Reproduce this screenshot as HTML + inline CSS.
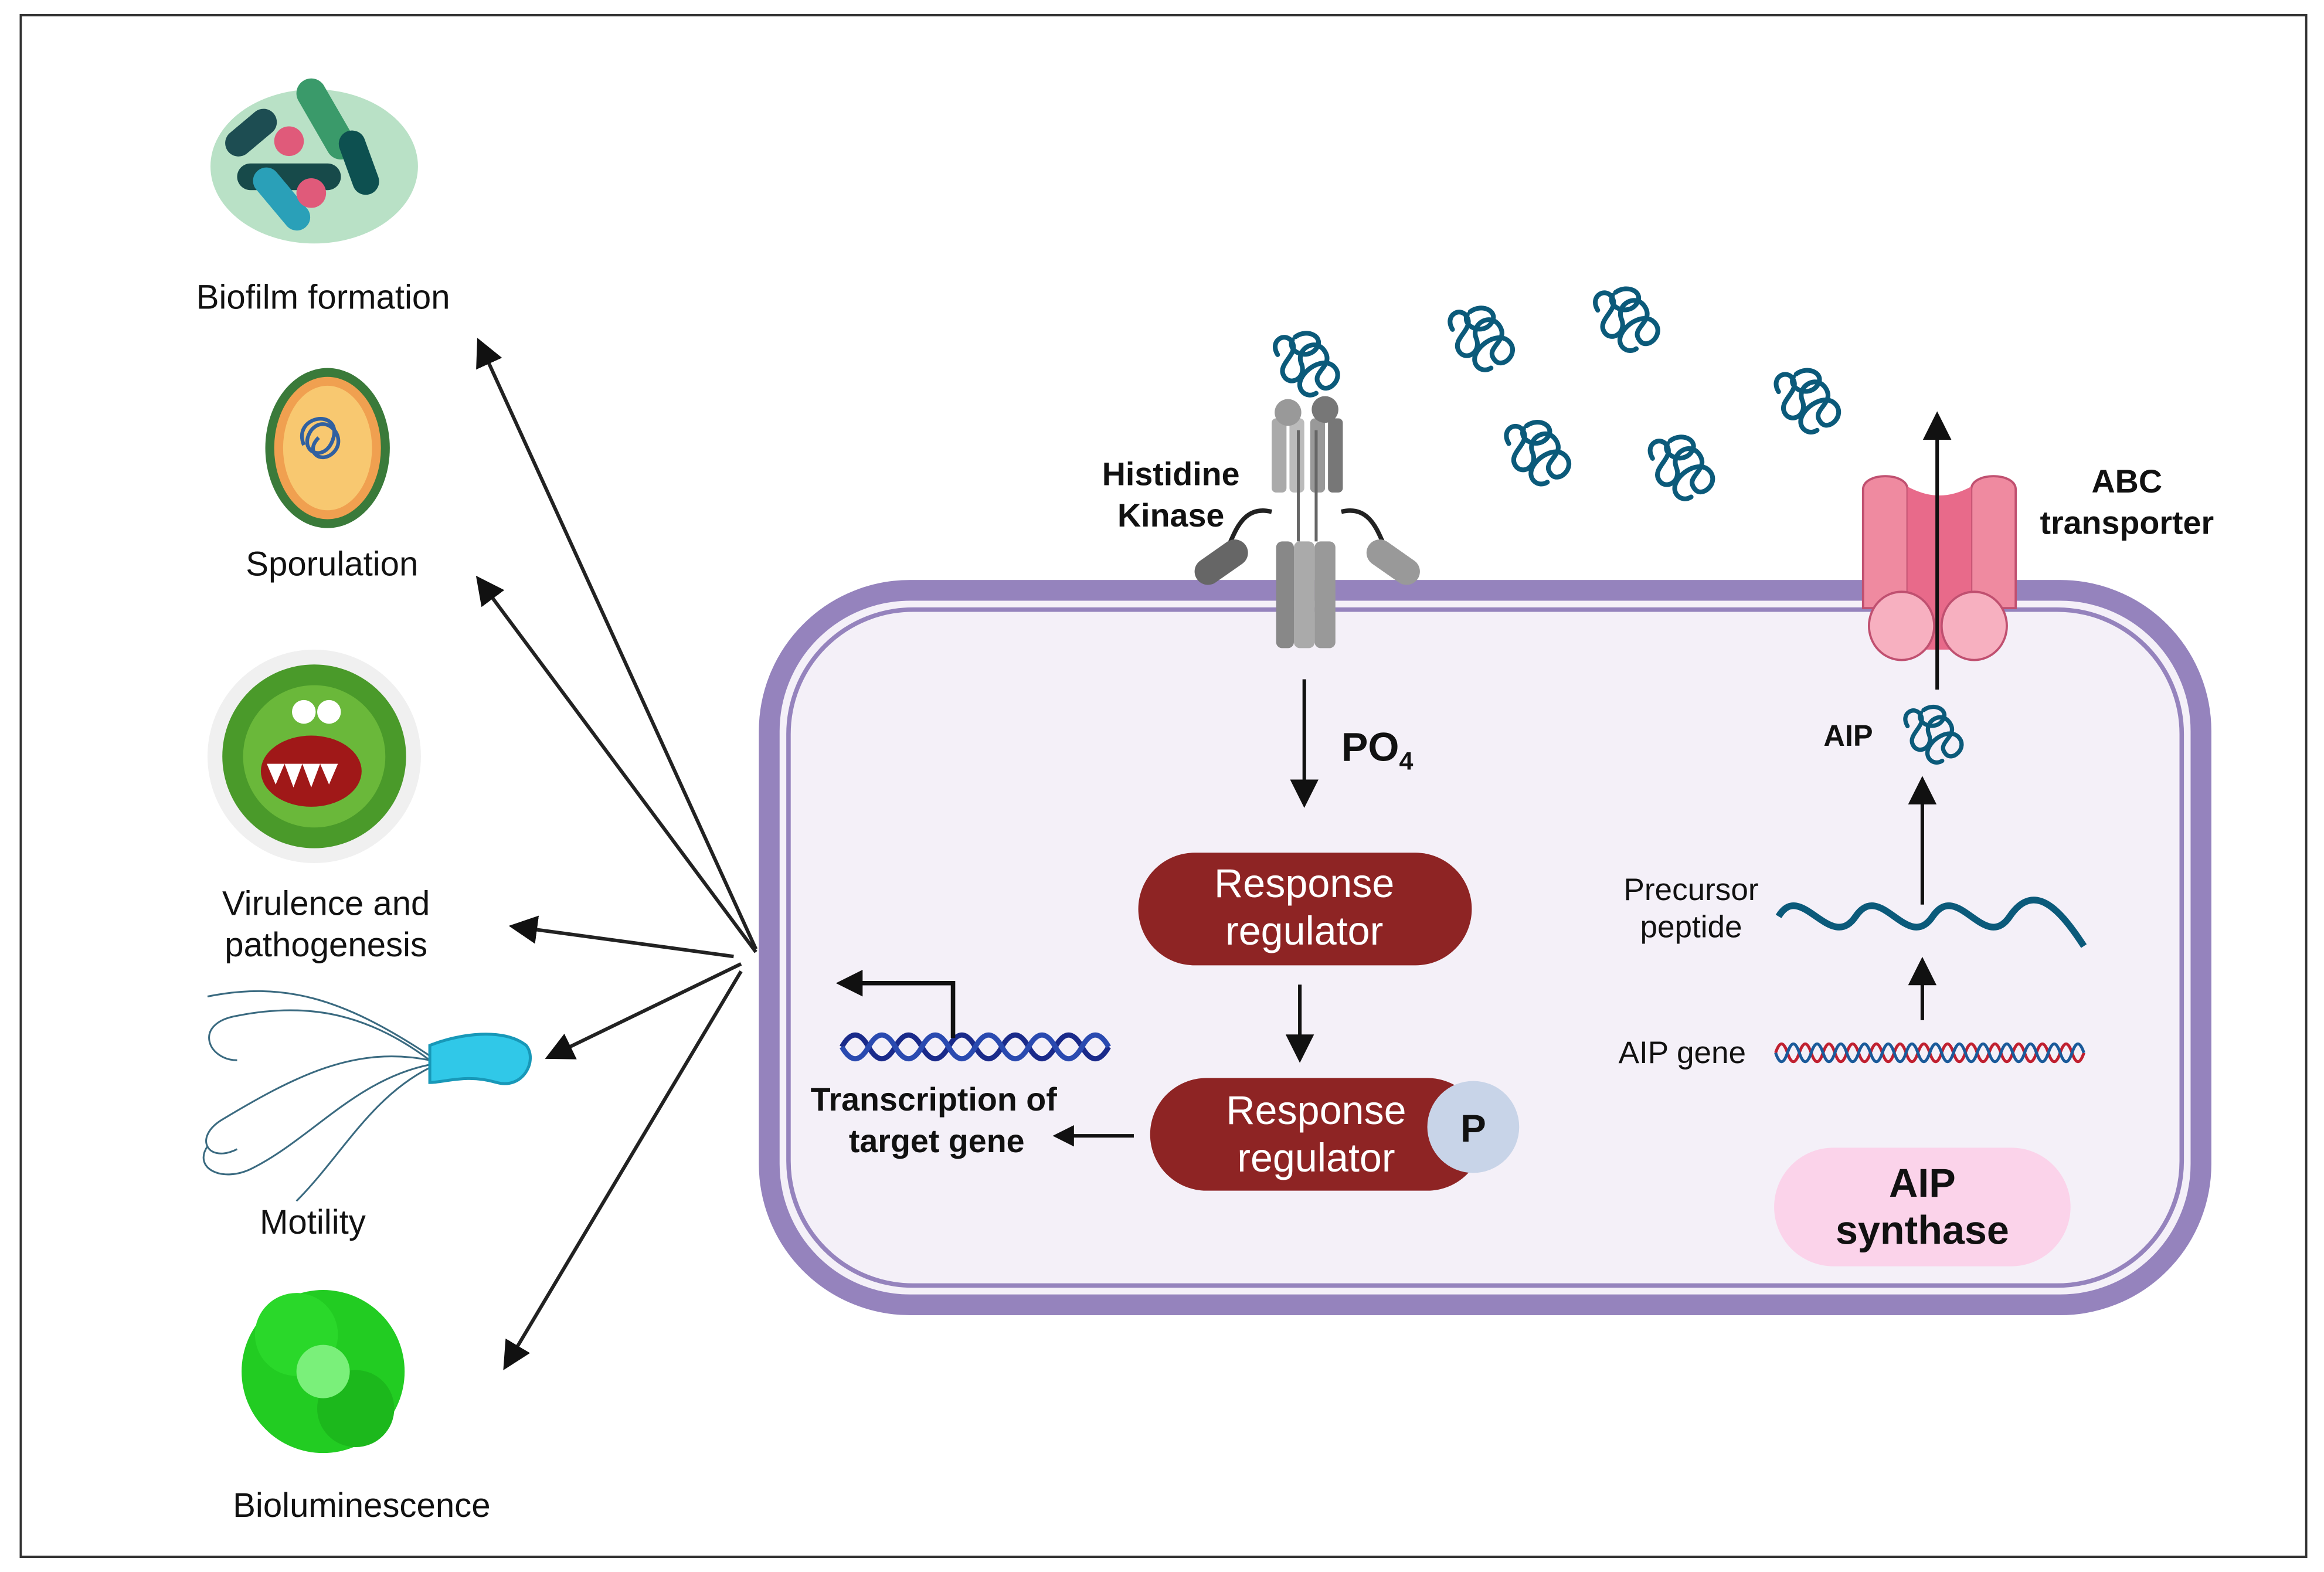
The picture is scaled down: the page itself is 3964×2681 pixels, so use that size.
<!DOCTYPE html>
<html><head><meta charset="utf-8"><style>
html,body{margin:0;padding:0;background:#fff}
svg{display:block}
text{font-family:"Liberation Sans",sans-serif}
</style></head><body>
<svg width="3964" height="2681" viewBox="0 0 1568 1060" xmlns="http://www.w3.org/2000/svg">
<defs>
<marker id="ah" markerWidth="8" markerHeight="8" refX="6" refY="4" orient="auto" markerUnits="strokeWidth">
<path d="M0,0 L8,4 L0,8 z" fill="#111"/></marker>
<marker id="ah2" markerWidth="6" markerHeight="6" refX="4" refY="3" orient="auto" markerUnits="strokeWidth">
<path d="M0,0 L6,3 L0,6 z" fill="#111"/></marker>
<g id="sq" fill="none" stroke="#0b5a7a" stroke-width="3.2" stroke-linecap="round">
<path d="M-20,-6 c-6,-10 6,-16 10,-8 c4,8 -10,14 -6,22 c4,8 16,2 12,-8 c-4,-10 10,-18 16,-8 c6,10 -10,14 -4,22 c5,8 18,-4 10,-12 c-6,-6 -18,0 -22,8 c-4,8 4,14 10,10"/>
<path d="M-8,-18 c8,-6 20,0 14,8 c-6,8 -20,2 -16,-6"/>
</g>
<linearGradient id="fade" x1="1" y1="0" x2="0" y2="0"><stop offset="0" stop-color="#ccc"/><stop offset="1" stop-color="#111"/></linearGradient>
</defs>
<rect x="0" y="0" width="1568" height="1060" fill="#fff"/>
<rect x="14" y="10" width="1542" height="1040" fill="none" stroke="#333" stroke-width="1.5"/>

<!-- cell -->
<rect x="519" y="398" width="966" height="482" rx="95" fill="#f4f0f8" stroke="#9583bd" stroke-width="14"/>
<rect x="532" y="411" width="940" height="456" rx="84" fill="none" stroke="#9583bd" stroke-width="3"/>

<!-- left icons -->
<g>
<ellipse cx="212" cy="112" rx="70" ry="52" fill="#a8d9b8" opacity="0.8"/>
<rect x="150" y="80" width="40" height="18" rx="9" fill="#1d4d52" transform="rotate(-40 170 90)"/>
<rect x="190" y="70" width="60" height="20" rx="10" fill="#3a9a6a" transform="rotate(60 220 80)"/>
<rect x="160" y="110" width="70" height="18" rx="9" fill="#174a4a"/>
<rect x="165" y="125" width="50" height="18" rx="9" fill="#2aa0b8" transform="rotate(50 190 134)"/>
<circle cx="195" cy="95" r="10" fill="#e05a7a"/><circle cx="210" cy="130" r="10" fill="#e05a7a"/>
<rect x="220" y="100" width="45" height="18" rx="9" fill="#0d5050" transform="rotate(70 242 109)"/>
</g>
<text x="218" y="208" font-size="23" text-anchor="middle" fill="#111">Biofilm formation</text>
<ellipse cx="221" cy="302" rx="42" ry="54" fill="#3a7a3a"/>
<ellipse cx="221" cy="302" rx="36" ry="48" fill="#f0a050"/>
<ellipse cx="221" cy="302" rx="30" ry="42" fill="#f8c870"/>
<path d="M205,300 c-8,-20 25,-25 20,-5 c-5,18 -25,10 -15,-5 c10,-12 25,5 15,15 c-8,8 -20,0 -10,-10" fill="none" stroke="#3060a0" stroke-width="2.5"/>
<text x="224" y="388" font-size="23" text-anchor="middle" fill="#111">Sporulation</text>
<circle cx="212" cy="510" r="72" fill="#f0f0f0"/>
<circle cx="212" cy="510" r="62" fill="#4a9a2a"/>
<circle cx="212" cy="510" r="48" fill="#6ab83a"/>
<ellipse cx="210" cy="520" rx="34" ry="24" fill="#a01818"/>
<path d="M180,515 l6,14 6,-14 6,16 6,-16 6,16 6,-16 6,14 6,-14" fill="#fff"/>
<circle cx="205" cy="480" r="8" fill="#fff"/><circle cx="222" cy="480" r="8" fill="#fff"/>
<text x="220" y="617" font-size="23" text-anchor="middle" fill="#111">Virulence and</text>
<text x="220" y="645" font-size="23" text-anchor="middle" fill="#111">pathogenesis</text>
<g fill="none" stroke="#3a6a80" stroke-width="1.2">
<path d="M290,715 c-40,-30 -80,-40 -130,-30 c-30,5 -20,30 0,30"/>
<path d="M290,715 c-50,-10 -90,10 -140,40 c-20,12 -10,30 10,20"/>
<path d="M290,718 c-50,10 -80,50 -120,70 c-20,10 -40,0 -30,-15"/>
<path d="M290,712 c-60,-40 -100,-50 -150,-40"/>
<path d="M290,720 c-40,20 -60,60 -90,90"/>
</g>
<path d="M290,705 c20,-8 50,-12 65,0 c8,10 -2,30 -20,25 c-20,-6 -35,0 -45,0 z" fill="#30c8e8" stroke="#1898b8" stroke-width="2"/>
<text x="211" y="832" font-size="23" text-anchor="middle" fill="#111">Motility</text>
<circle cx="218" cy="925" r="55" fill="#22cc22"/>
<circle cx="200" cy="900" r="28" fill="#2ad82a"/><circle cx="240" cy="950" r="26" fill="#1cb81c"/>
<circle cx="218" cy="925" r="18" fill="#7af07a"/>
<text x="244" y="1023" font-size="23" text-anchor="middle" fill="#111">Bioluminescence</text>

<!-- arrows from cell -->
<g stroke="url(#fade)" stroke-width="2.4" fill="none">
<line x1="510" y1="640" x2="324" y2="232" stroke="#222" marker-end="url(#ah)"/>
<line x1="510" y1="642" x2="324" y2="392" stroke="#222" marker-end="url(#ah)"/>
<line x1="495" y1="645" x2="348" y2="625" stroke="#222" marker-end="url(#ah)"/>
<line x1="500" y1="650" x2="372" y2="712" stroke="#222" marker-end="url(#ah)"/>
<line x1="500" y1="655" x2="342" y2="920" stroke="#222" marker-end="url(#ah)"/>
</g>

<!-- histidine kinase -->
<g>
<rect x="858" y="282" width="10" height="50" rx="3" fill="#aaa"/>
<rect x="870" y="282" width="10" height="50" rx="3" fill="#bbb"/>
<rect x="884" y="282" width="10" height="50" rx="3" fill="#999"/>
<rect x="896" y="282" width="10" height="50" rx="3" fill="#777"/>
<circle cx="869" cy="278" r="9" fill="#999"/><circle cx="894" cy="276" r="9" fill="#777"/>
<path d="M858,345 c-20,-5 -25,15 -30,25" stroke="#222" stroke-width="3" fill="none"/>
<path d="M905,345 c20,-5 25,15 30,25" stroke="#222" stroke-width="3" fill="none"/>
<rect x="804" y="370" width="40" height="18" rx="9" fill="#666" transform="rotate(-35 824 379)"/>
<rect x="920" y="370" width="40" height="18" rx="9" fill="#999" transform="rotate(35 940 379)"/>
<rect x="861" y="365" width="12" height="72" rx="4" fill="#888"/>
<rect x="873" y="365" width="14" height="72" rx="4" fill="#aaa"/>
<rect x="887" y="365" width="14" height="72" rx="4" fill="#999"/>
<line x1="876" y1="290" x2="876" y2="365" stroke="#666" stroke-width="2"/>
<line x1="888" y1="290" x2="888" y2="365" stroke="#666" stroke-width="2"/>
</g>
<use href="#sq" transform="translate(882,245)"/>
<use href="#sq" transform="translate(1000,228)"/>
<use href="#sq" transform="translate(1098,215)"/>
<use href="#sq" transform="translate(1038,305)"/>
<use href="#sq" transform="translate(1135,315)"/>
<use href="#sq" transform="translate(1220,270)"/>
<use href="#sq" transform="translate(1305,495) scale(0.9)"/>
<text x="790" y="327" font-size="22" font-weight="bold" text-anchor="middle" fill="#111">Histidine</text>
<text x="790" y="355" font-size="22" font-weight="bold" text-anchor="middle" fill="#111">Kinase</text>

<!-- ABC transporter -->
<path d="M1257,330 c0,-12 30,-12 30,0 l0,80 -30,0 z" fill="#ef8aa0" stroke="#c05070" stroke-width="1.5"/>
<path d="M1330,330 c0,-12 30,-12 30,0 l0,80 -30,0 z" fill="#ef8aa0" stroke="#c05070" stroke-width="1.5"/>
<path d="M1287,328 c15,8 28,8 43,0 l0,110 -43,0 z" fill="#e86a8a"/>
<ellipse cx="1283" cy="422" rx="22" ry="23" fill="#f7b0c0" stroke="#c05070" stroke-width="1.5"/>
<ellipse cx="1332" cy="422" rx="22" ry="23" fill="#f7b0c0" stroke="#c05070" stroke-width="1.5"/>
<line x1="1307" y1="465" x2="1307" y2="282" stroke="#111" stroke-width="2.4" marker-end="url(#ah)"/>
<text x="1435" y="332" font-size="22" font-weight="bold" text-anchor="middle" fill="#111">ABC</text>
<text x="1435" y="360" font-size="22" font-weight="bold" text-anchor="middle" fill="#111">transporter</text>
<text x="1247" y="503" font-size="20" font-weight="bold" text-anchor="middle" fill="#111">AIP</text>

<!-- PO4 -->
<line x1="880" y1="458" x2="880" y2="540" stroke="#111" stroke-width="2.4" marker-end="url(#ah)"/>
<text x="905" y="513" font-size="27" font-weight="bold" fill="#111">PO<tspan font-size="17" dy="6">4</tspan></text>

<!-- response regulators -->
<rect x="768" y="575" width="225" height="76" rx="38" fill="#8e2424"/>
<text x="880" y="605" font-size="27" text-anchor="middle" fill="#fff">Response</text>
<text x="880" y="637" font-size="27" text-anchor="middle" fill="#fff">regulator</text>
<line x1="877" y1="664" x2="877" y2="712" stroke="#111" stroke-width="2.4" marker-end="url(#ah)"/>
<rect x="776" y="727" width="225" height="76" rx="38" fill="#8e2424"/>
<circle cx="994" cy="760" r="31" fill="#c8d4e8"/>
<text x="994" y="770" font-size="26" font-weight="bold" text-anchor="middle" fill="#111">P</text>
<text x="888" y="758" font-size="27" text-anchor="middle" fill="#fff">Response</text>
<text x="888" y="790" font-size="27" text-anchor="middle" fill="#fff">regulator</text>
<line x1="765" y1="766" x2="715" y2="766" stroke="#111" stroke-width="2.4" marker-end="url(#ah2)"/>

<!-- target gene -->
<g fill="none" stroke-width="3.5">
<path d="M568,706 q9,-16 18,0 t18,0 t18,0 t18,0 t18,0 t18,0 t18,0 t18,0 t18,0 t18,0" stroke="#1a2a8a"/>
<path d="M568,706 q9,16 18,0 t18,0 t18,0 t18,0 t18,0 t18,0 t18,0 t18,0 t18,0 t18,0" stroke="#2a4ab0"/>
</g>
<path d="M643,700 L643,663 L570,663" fill="none" stroke="#111" stroke-width="3" marker-end="url(#ah2)"/>
<text x="630" y="749" font-size="22" font-weight="bold" text-anchor="middle" fill="#111">Transcription of</text>
<text x="632" y="777" font-size="22" font-weight="bold" text-anchor="middle" fill="#111">target gene</text>

<!-- AIP path -->
<line x1="1297" y1="610" x2="1297" y2="528" stroke="#111" stroke-width="2.4" marker-end="url(#ah)"/>
<text x="1141" y="607" font-size="21" text-anchor="middle" fill="#111">Precursor</text>
<text x="1141" y="632" font-size="21" text-anchor="middle" fill="#111">peptide</text>
<path d="M1200,618 c15,-25 35,25 52,0 c17,-25 35,25 52,0 c17,-25 35,25 52,0 c17,-25 35,-3 50,20" fill="none" stroke="#0b5a7a" stroke-width="4.5"/>
<line x1="1297" y1="688" x2="1297" y2="650" stroke="#111" stroke-width="2.4" marker-end="url(#ah)"/>
<text x="1135" y="717" font-size="21" text-anchor="middle" fill="#111">AIP gene</text>
<g fill="none" stroke-width="2">
<path d="M1198,710 q4,-12 8,0 t8,0 t8,0 t8,0 t8,0 t8,0 t8,0 t8,0 t8,0 t8,0 t8,0 t8,0 t8,0 t8,0 t8,0 t8,0 t8,0 t8,0 t8,0 t8,0 t8,0 t8,0 t8,0 t8,0 t8,0 t8,0" stroke="#c02030"/>
<path d="M1198,710 q4,12 8,0 t8,0 t8,0 t8,0 t8,0 t8,0 t8,0 t8,0 t8,0 t8,0 t8,0 t8,0 t8,0 t8,0 t8,0 t8,0 t8,0 t8,0 t8,0 t8,0 t8,0 t8,0 t8,0 t8,0 t8,0 t8,0" stroke="#1a5a9a"/>
</g>
<rect x="1197" y="774" width="200" height="80" rx="40" fill="#fbd3ea"/>
<text x="1297" y="807" font-size="27" font-weight="bold" text-anchor="middle" fill="#111">AIP</text>
<text x="1297" y="839" font-size="27" font-weight="bold" text-anchor="middle" fill="#111">synthase</text>
</svg>
</body></html>
